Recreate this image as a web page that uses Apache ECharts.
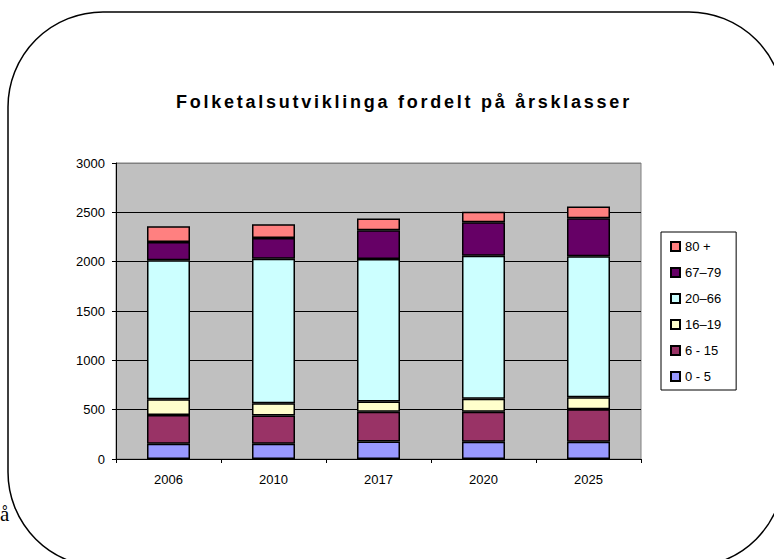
<!DOCTYPE html>
<html>
<head>
    <meta charset="utf-8" />
    <script src="https://cdn.jsdelivr.net/npm/echarts@6/dist/echarts.min.js"></script>
    <style>
        /* the title in the original is set with wide letter spacing */
        #main text[style*="bold"],
        #main text[font-weight="bold"] {
            letter-spacing: 2.75px;
        }
    </style>
</head>
<body style="margin:0">
    <div id="main" style="width:774px;height:559px"></div>
    <script type="text/javascript">
        // years and age groups
        const years = ['2006', '2010', '2017', '2020', '2025'];
        const groups = ['0 - 5', '6 - 15', '16\u201319', '20\u201366', '67\u201379', '80 +'];
        const age0_5 = [155, 155, 178, 175, 175];
        const age6_15 = [290, 285, 300, 305, 330];
        const age16_19 = [160, 125, 105, 130, 120];
        const age20_66 = [1410, 1465, 1445, 1450, 1430];
        const age67_79 = [185, 210, 290, 340, 385];
        const age80 = [160, 140, 120, 105, 120];
        const colors = ['#9999FF', '#993366', '#FFFFCC', '#CCFFFF', '#660066', '#FF8080'];

        const values = [age0_5, age6_15, age16_19, age20_66, age67_79, age80];

        var chart = echarts.init(document.getElementById('main'), null, { renderer: 'svg' });
        chart.setOption({
            animation: false,
            backgroundColor: '#fff',
            textStyle: { fontFamily: 'Liberation Sans, Arial, sans-serif' },
            title: {
                text: 'Folketalsutviklinga fordelt på årsklasser',
                left: 171,
                top: 88,
                textStyle: { fontSize: 18, fontWeight: 'bold', color: '#000' },
            },
            graphic: [
                {
                    type: 'rect',
                    shape: { x: 8, y: 12, width: 776, height: 555, r: 95 },
                    style: { fill: 'none', stroke: '#000', lineWidth: 1.5 },
                    silent: true,
                    z: 100,
                },
                {
                    type: 'text',
                    left: 0,
                    top: 503,
                    style: { text: 'å', font: '21px "Liberation Serif", serif', fill: '#000' },
                    silent: true,
                },
            ],
            legend: {
                orient: 'vertical',
                left: 661,
                top: 232,
                padding: [8, 15, 7, 9],
                itemWidth: 9,
                itemHeight: 9,
                itemGap: 13,
                borderColor: '#000',
                borderWidth: 1,
                icon: 'rect',
                data: groups.slice().reverse(),
                textStyle: { fontSize: 13, color: '#000' },
            },
            grid: {
                left: 116,
                right: 133,
                top: 163,
                bottom: 100,
                show: true,
                backgroundColor: '#C0C0C0',
                borderColor: '#808080',
                borderWidth: 1,
            },
            xAxis: {
                type: 'category',
                data: years,
                axisLine: { lineStyle: { color: '#000', width: 1 } },
                axisTick: { show: true, length: 4, lineStyle: { color: '#000' } },
                axisLabel: { color: '#000', fontSize: 13, margin: 14 },
            },
            yAxis: {
                type: 'value',
                min: 0,
                max: 3000,
                interval: 500,
                axisLine: { show: true, lineStyle: { color: '#000', width: 1 } },
                axisTick: { show: true, length: 4, lineStyle: { color: '#000' } },
                axisLabel: { color: '#000', fontSize: 13, margin: 11, formatter: (v) => String(v) },
                splitLine: {
                    lineStyle: {
                        color: ['#000', '#000', '#000', '#000', '#000', '#000', '#808080'],
                        width: 1,
                    },
                },
            },
            series: groups.map((name, i) => ({
                type: 'bar',
                name: name,
                stack: 'total',
                barWidth: 43,
                data: values[i],
                itemStyle: { color: colors[i], borderColor: '#000', borderWidth: 1.5 },
            })),
        });
    </script>
</body>
</html>
